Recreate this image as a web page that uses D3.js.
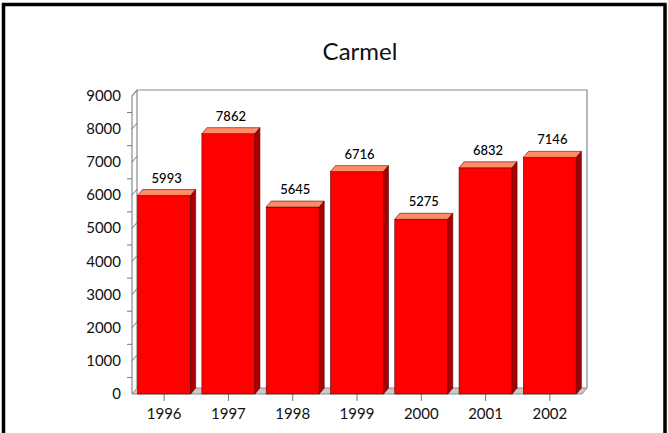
<!DOCTYPE html>
<html>
<head>
<meta charset="utf-8">
<script src="https://cdn.jsdelivr.net/npm/d3@7"></script>
<style>
  body { margin: 0; background: #fff; }
  text { font-family: Lato, "Noto Sans", sans-serif; }
</style>
</head>
<body>
<div id="chart"></div>
<script>
// data
const years = ["1996", "1997", "1998", "1999", "2000", "2001", "2002"];
const visitors = [5993, 7862, 5645, 6716, 5275, 6832, 7146];
const yTicks = [0, 1000, 2000, 3000, 4000, 5000, 6000, 7000, 8000, 9000];
const title = "Carmel";

const W = 668, H = 433;
const dx = 5, dy = 6; // 3d depth

const svg = d3.select("#chart").append("svg")
    .attr("width", W)
    .attr("height", H);

svg.append("rect").attr("width", W).attr("height", H).attr("fill", "#fff");

// frame (no bottom edge)
svg.append("path")
    .attr("d", "M3.5,433 V4.5 H665 V433")
    .attr("fill", "none")
    .attr("stroke", "#000")
    .attr("stroke-width", 3.5);

svg.append("text")
    .attr("x", 360).attr("y", 60)
    .attr("text-anchor", "middle")
    .attr("font-size", 24)
    .attr("fill", "#111")
    .text(title);

const x = d3.scaleBand().domain(years).range([132, 582]).paddingInner(0).paddingOuter(0);
const y = d3.scaleLinear().domain([0, 9000]).range([394, 96]);

const x0 = x.range()[0], x1 = x.range()[1];
const y0 = y(0), yTop = y(9000);

// floor
svg.append("path")
    .attr("d", `M${x0},${y0} L${x1},${y0} L${x1 + dx},${y0 - dy} L${x0 + dx},${y0 - dy} Z`)
    .attr("fill", "#c9c9c9")
    .attr("stroke", "#777")
    .attr("stroke-width", 0.8);

// walls
const wall = d3.path();
wall.moveTo(x0, y0); wall.lineTo(x0, yTop);
wall.lineTo(x0 + dx, yTop - dy); wall.lineTo(x1 + dx, yTop - dy);
wall.lineTo(x1 + dx, y0 - dy);
wall.moveTo(x0 + dx, y0 - dy); wall.lineTo(x0 + dx, yTop - dy);
svg.append("path")
    .attr("d", wall.toString())
    .attr("fill", "none")
    .attr("stroke", "#8a8a8a")
    .attr("stroke-width", 1.2);

// y ticks: minor at 500s, major stubs at 1000s
const minor = d3.range(500, 9000, 1000);
svg.selectAll(".ymin").data(minor).enter().append("line")
    .attr("x1", x0 - 5).attr("x2", x0)
    .attr("y1", d => y(d)).attr("y2", d => y(d))
    .attr("stroke", "#777");
svg.selectAll(".ymaj").data(yTicks.slice(1, -1)).enter().append("line")
    .attr("x1", x0).attr("x2", x0 + dx)
    .attr("y1", d => y(d)).attr("y2", d => y(d) - dy)
    .attr("stroke", "#777");

svg.selectAll(".ylab").data(yTicks).enter().append("text")
    .attr("x", 121)
    .attr("y", d => y(d) + 5)
    .attr("text-anchor", "end")
    .attr("font-size", 15)
    .attr("fill", "#111")
    .text(d => d);

// x ticks and labels
svg.selectAll(".xt").data(years).enter().append("line")
    .attr("x1", d => x(d) + x.bandwidth() / 2).attr("x2", d => x(d) + x.bandwidth() / 2)
    .attr("y1", y0).attr("y2", y0 + 7)
    .attr("stroke", "#777");
svg.selectAll(".xl").data(years).enter().append("text")
    .attr("x", d => x(d) + x.bandwidth() / 2)
    .attr("y", 419)
    .attr("text-anchor", "middle")
    .attr("font-size", 15)
    .attr("fill", "#111")
    .text(d => d);

// bars
const bw = x.bandwidth() * 0.825;
const rows = years.map((yr, i) => ({ yr, v: visitors[i] }));
const bars = svg.selectAll(".bar").data(rows).enter().append("g");

const left = d => x(d.yr) + (x.bandwidth() - bw) / 2;

bars.append("rect")
    .attr("x", left)
    .attr("y", d => y(d.v))
    .attr("width", bw)
    .attr("height", d => y0 - y(d.v))
    .attr("fill", "#ff0000")
    .attr("stroke", "#5a0000")
    .attr("stroke-width", 0.6);

bars.append("path")
    .attr("d", d => {
        const l = left(d), t = y(d.v);
        return `M${l},${t} L${l + dx},${t - dy} L${l + bw + dx},${t - dy} L${l + bw},${t} Z`;
    })
    .attr("fill", "#ff8c66")
    .attr("stroke", "#5a0000")
    .attr("stroke-width", 0.6);

bars.append("path")
    .attr("d", d => {
        const r = left(d) + bw, t = y(d.v);
        return `M${r},${t} L${r + dx},${t - dy} L${r + dx},${y0 - dy} L${r},${y0} Z`;
    })
    .attr("fill", "#a80000")
    .attr("stroke", "#5a0000")
    .attr("stroke-width", 0.6);

bars.append("text")
    .attr("x", d => left(d) + bw / 2 + dx / 2)
    .attr("y", d => y(d.v) - dy - 7)
    .attr("text-anchor", "middle")
    .attr("font-size", 13)
    .attr("font-weight", 500)
    .attr("fill", "#000")
    .text(d => d.v);
</script>
</body>
</html>
